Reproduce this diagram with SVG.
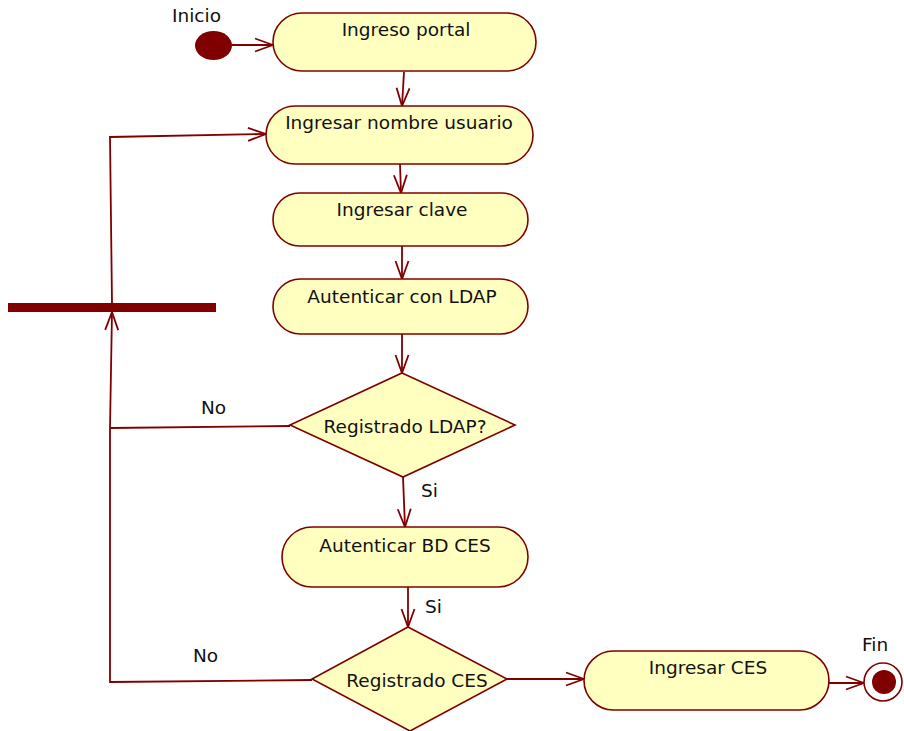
<svg xmlns="http://www.w3.org/2000/svg" width="904" height="731" viewBox="0 0 904 731">
  <style>
    .act { fill: #ffffc0; stroke: #800000; stroke-width: 1.6; }
    .lbl { font-family: "DejaVu Sans", Verdana, sans-serif; font-size: 18.5px; fill: #111; }
    .mid { text-anchor: middle; }
    .edge { fill: none; stroke: #800000; stroke-width: 1.8; }
  </style>
  <defs>
    <!-- open V arrowhead used by every control flow -->
    <marker id="open" viewBox="0 0 20 16" refX="19" refY="8" markerWidth="20" markerHeight="16" markerUnits="userSpaceOnUse" orient="auto">
      <path d="M1,1.5 L19,8 L1,14.5" fill="none" stroke="#800000" stroke-width="1.8"/>
    </marker>
  </defs>
  <rect width="904" height="731" fill="#ffffff"/>

  <!-- connectors -->
  <g id="connectors">
    <path class="edge" d="M232,45 L273,45" marker-end="url(#open)"/>
    <path class="edge" d="M404,72 L402,106" marker-end="url(#open)"/>
    <path class="edge" d="M400,164 L401,193" marker-end="url(#open)"/>
    <path class="edge" d="M402,246 L402,279" marker-end="url(#open)"/>
    <path class="edge" d="M402,334 L402,373" marker-end="url(#open)"/>
    <path class="edge" d="M403,477 L405,527" marker-end="url(#open)"/>
    <path class="edge" d="M408,587 L408,627" marker-end="url(#open)"/>
    <path class="edge" d="M507,679 L584,679" marker-end="url(#open)"/>
    <path class="edge" d="M829,683 L864,683" marker-end="url(#open)"/>
    <!-- No branches back to the join bar -->
    <path class="edge" d="M290,426 L110,428"/>
    <path class="edge" d="M312,680 L110,682 L110,428 L112,312" marker-end="url(#open)"/>
    <path class="edge" d="M112,303 L110,137 L266,134" marker-end="url(#open)"/>
    <text class="lbl" x="201" y="414">No</text>
    <text class="lbl" x="193" y="662">No</text>
    <text class="lbl" x="421" y="497">Si</text>
    <text class="lbl" x="425" y="613">Si</text>
  </g>

  <g id="inicio">
    <ellipse cx="213.5" cy="45.5" rx="18.5" ry="14.5" fill="#800000"/>
    <text class="lbl" x="172" y="22">Inicio</text>
  </g>

  <g id="ingreso-portal">
    <rect class="act" x="273" y="13" width="263" height="58" rx="29"/>
    <text class="lbl mid" x="406" y="36">Ingreso portal</text>
  </g>

  <g id="ingresar-nombre">
    <rect class="act" x="266" y="106" width="267" height="58" rx="29"/>
    <text class="lbl mid" x="399" y="129">Ingresar nombre usuario</text>
  </g>

  <g id="ingresar-clave">
    <rect class="act" x="273" y="193" width="255" height="53" rx="26.5"/>
    <text class="lbl mid" x="402" y="216">Ingresar clave</text>
  </g>

  <g id="autenticar-ldap">
    <rect class="act" x="273" y="279" width="255" height="55" rx="27.5"/>
    <text class="lbl mid" x="402" y="303">Autenticar con LDAP</text>
  </g>

  <g id="join-bar">
    <rect x="8" y="303" width="208" height="9" fill="#800000"/>
  </g>

  <g id="registrado-ldap">
    <polygon class="act" points="402,373 515,425 403,477 290,425"/>
    <text class="lbl mid" x="405" y="433">Registrado LDAP?</text>
  </g>

  <g id="autenticar-bd">
    <rect class="act" x="282" y="527" width="246" height="60" rx="30"/>
    <text class="lbl mid" x="405" y="552">Autenticar BD CES</text>
  </g>

  <g id="registrado-ces">
    <polygon class="act" points="408,627 507,679 410,731 312,679"/>
    <text class="lbl mid" x="417" y="687">Registrado CES</text>
  </g>

  <g id="ingresar-ces">
    <rect class="act" x="584" y="651" width="245" height="59" rx="29.5"/>
    <text class="lbl mid" x="708" y="674">Ingresar CES</text>
  </g>

  <g id="fin">
    <circle cx="883" cy="682" r="19" fill="#ffffff" stroke="#800000" stroke-width="1.6"/>
    <circle cx="884" cy="682" r="12" fill="#800000"/>
    <text class="lbl" x="862" y="651">Fin</text>
  </g>
</svg>
